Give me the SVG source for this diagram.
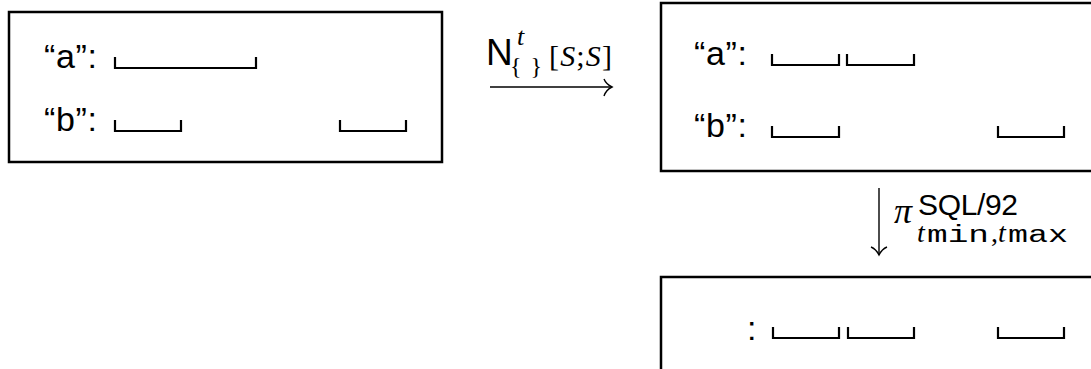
<svg xmlns="http://www.w3.org/2000/svg" width="1091" height="369" viewBox="0 0 1091 369">
<style>
.box{fill:none;stroke:#000;stroke-width:2.5}
.iv{fill:none;stroke:#000;stroke-width:2.2}
.lbl{font-family:"Liberation Sans",Arial,sans-serif;font-size:34px;fill:#000}
.sans{font-family:"Liberation Sans",Arial,sans-serif;fill:#000}
.serif{font-family:"Liberation Serif","Times New Roman",serif;fill:#000}
.mono{font-family:"Liberation Mono","Courier New",monospace;fill:#000}
.conn{fill:none;stroke:#000;stroke-width:1.4}
</style>
<g id="node-input">
<rect class="box" x="9" y="12" width="433" height="150"/>
<text class="lbl" x="44" y="68" textLength="53">“a”:</text>
<path class="iv" d="M115 57V68H256V57"/>
<text class="lbl" x="44" y="131" textLength="53">“b”:</text>
<path class="iv" d="M115 120V131H181V120"/>
<path class="iv" d="M340 120V131H406V120"/>
</g>
<g id="node-normalized">
<rect class="box" x="661" y="3" width="460" height="168"/>
<text class="lbl" x="694" y="65" textLength="53">“a”:</text>
<path class="iv" d="M772 54V65H839V54"/>
<path class="iv" d="M847 54V65H914V54"/>
<text class="lbl" x="694" y="137" textLength="53">“b”:</text>
<path class="iv" d="M772 126V137H839V126"/>
<path class="iv" d="M998 126V137H1064V126"/>
</g>
<g id="node-result">
<rect class="box" x="661" y="277" width="460" height="120"/>
<text class="lbl" x="747" y="340">:</text>
<path class="iv" d="M773 327V338H839V327"/>
<path class="iv" d="M848 327V338H914V327"/>
<path class="iv" d="M998 327V338H1064V327"/>
</g>
<g id="connectors">
<path class="conn" d="M490 87H612"/>
<path class="conn" d="M604 79Q606 84 612 87Q606 90 604 96"/>
<text class="sans" x="486" y="65" font-size="37">N</text>
<text class="serif" x="517" y="45" font-size="26" font-style="italic">t</text>
<text class="serif" x="510" y="74" font-size="24" textLength="32">{ }</text>
<text class="serif" x="549" y="66" font-size="30" textLength="63">[<tspan font-style="italic">S</tspan>;<tspan font-style="italic">S</tspan>]</text>
<path class="conn" d="M879 188V255"/>
<path class="conn" d="M871 247Q876 249 879 255Q882 249 887 247"/>
<text class="serif" x="894" y="223" font-size="36" font-style="italic">π</text>
<text class="sans" x="918" y="215" font-size="30" textLength="100">SQL/92</text>
<text class="serif" x="917" y="242" font-size="28" font-style="italic">t</text>
<text class="mono" x="927" y="242" font-size="23" textLength="62" lengthAdjust="spacingAndGlyphs">min</text>
<text class="serif" x="991" y="242" font-size="28">,</text>
<text class="serif" x="998" y="242" font-size="28" font-style="italic">t</text>
<text class="mono" x="1008" y="242" font-size="23" textLength="60" lengthAdjust="spacingAndGlyphs">max</text>
</g>
</svg>
